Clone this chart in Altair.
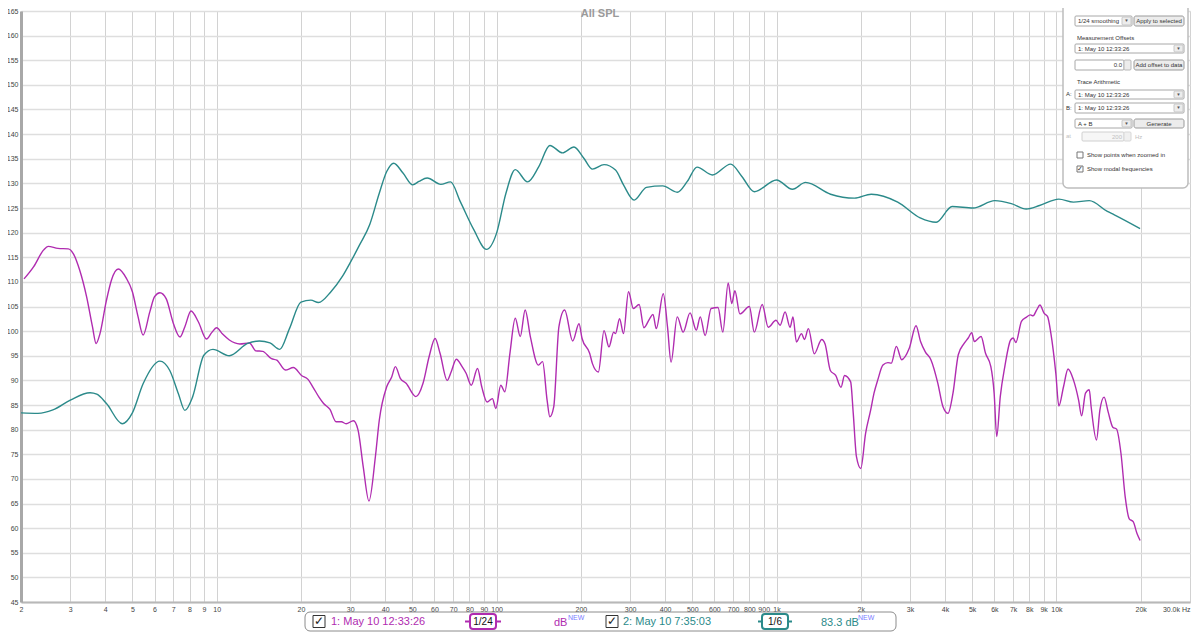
import altair as alt
import pandas as pd

# ---------------- data ----------------
# Trace 2 (teal) "2: May 10 7:35:03", 1/6 smoothing
t_freq = [2.0, 2.3, 2.6, 3.0, 3.53, 3.73, 4.04, 4.6, 5.0, 5.46,
          6.27, 6.8, 7.3, 7.7, 8.2, 9.0, 9.7, 11.1, 12.9, 14.2,
          15.5, 16.8, 18.2, 20.0, 21.7, 23.1, 25.6, 28.2, 30.0, 32.4,
          35.2, 38.1, 40.5, 42.9, 46.3, 50.2, 52.8, 56.5, 63.2, 68.5,
          74.2, 82.9, 92.0, 100, 108, 116.6, 129, 141.5, 155, 172,
          189, 205, 220, 242, 266, 284, 310, 343, 392, 442,
          480, 520, 590, 686, 752, 833, 1000, 1140, 1270, 1560,
          1900, 2180, 2710, 3260, 3720, 4240, 5040, 6020, 6900, 7800,
          8700, 10200, 11500, 13100, 15200, 16100, 19900]
t_db = [83.4, 83.3, 84.0, 86.0, 87.5, 87.2, 85.3, 81.2, 83.4, 89.3,
        93.9, 92.0, 87.3, 83.9, 86.6, 95.1, 96.3, 95.0, 97.5, 98.0,
        97.6, 96.3, 100.5, 105.9, 106.3, 105.8, 108.0, 111.2, 113.9, 117.5,
        121.6, 128.0, 132.4, 134.1, 132.1, 129.7, 130.4, 131.1, 129.8, 130.3,
        126.3, 120.6, 116.6, 119.9, 128.0, 132.8, 130.3, 133.4, 137.7, 136.2,
        137.4, 135.1, 132.9, 133.8, 132.7, 129.7, 126.6, 129.2, 129.5, 128.2,
        130.4, 133.3, 131.7, 133.9, 131.4, 128.3, 130.7, 128.8, 130.2, 127.8,
        127.0, 127.8, 126.2, 123.0, 122.1, 125.3, 125.0, 126.5, 125.9, 124.8,
        125.5, 126.8, 126.2, 126.5, 124.3, 123.6, 120.8]

# Trace 1 (magenta) "1: May 10 12:33:26", 1/24 smoothing
m_freq = [2.05, 2.22, 2.41, 2.5, 2.71, 2.95, 3.07, 3.24, 3.43, 3.6,
          3.71, 3.83, 4.03, 4.21, 4.45, 4.76, 5.0, 5.24, 5.46, 5.77,
          6.0, 6.27, 6.6, 7.0, 7.4, 7.7, 8.1, 8.6, 9.2, 9.6,
          10.0, 10.5, 11.1, 12.1, 13.1, 13.8, 14.6, 15.7, 16.4, 17.6,
          18.8, 20.1, 21.2, 22.1, 23.2, 24.1, 25.4, 26.7, 27.9, 29.0,
          30.8, 32.0, 33.4, 35.0, 36.9, 38.1, 40.5, 42.2, 43.5, 45.3,
          47.5, 51.5, 54.6, 57.4, 60.3, 62.8, 66.6, 68.8, 71.8, 75.3,
          77.9, 81.2, 85.5, 88.5, 92.5, 96.6, 99.4, 103.5, 107, 111.6,
          116.6, 121.5, 126.5, 132, 141, 146, 151.5, 155, 160, 167,
          175, 187, 197, 202, 215, 220, 231, 242, 252, 262,
          266, 275, 284, 296, 308, 323, 336, 352, 362, 372,
          394, 408, 420, 442, 464, 491, 517, 534, 556, 584,
          618, 643, 672, 692, 710, 740, 800, 833, 889, 934,
          996, 1030, 1073, 1118, 1145, 1178, 1228, 1258, 1300, 1364,
          1450, 1491, 1557, 1627, 1700, 1750, 1840, 1880, 1930, 2000,
          2080, 2170, 2230, 2300, 2400, 2500, 2570, 2680, 2800, 2980,
          3150, 3270, 3400, 3560, 3770, 3930, 4100, 4270, 4460, 4680,
          4840, 4980, 5090, 5380, 5580, 5830, 5990, 6120, 6300, 6540,
          6860, 7010, 7160, 7500, 7800, 8070, 8250, 8500, 8730, 9040,
          9290, 9550, 9950, 10200, 10600, 11000, 11500, 12000, 12300, 12700,
          13100, 13300, 13900, 14300, 14800, 15300, 15900, 16400, 17000, 17600,
          18200, 18800, 19400, 19900]
m_db = [110.6, 113.1, 116.5, 117.2, 116.8, 116.7, 115.8, 112.4, 107.0, 100.9,
        97.5, 99.5, 106.0, 110.4, 112.6, 110.7, 108.0, 102.9, 99.2, 103.9,
        107.0, 107.8, 106.6, 101.6, 98.8, 100.9, 104.1, 101.9, 98.4, 99.7,
        100.7, 99.4, 98.2, 97.4, 97.6, 96.0, 95.9, 94.4, 94.1, 92.1,
        92.6, 91.0, 90.2, 88.6, 86.6, 85.3, 84.1, 81.6, 81.6, 81.2,
        81.8, 79.9, 72.4, 65.5, 74.5, 81.9, 88.7, 90.7, 92.8, 90.4,
        89.4, 86.7, 89.4, 94.8, 98.5, 95.5, 90.0, 91.7, 94.3, 92.8,
        91.4, 89.0, 92.4, 88.7, 85.6, 86.3, 84.3, 89.0, 87.7, 95.5,
        102.6, 98.9, 104.3, 98.9, 93.1, 93.8, 86.0, 82.6, 84.6, 100.9,
        104.3, 98.0, 101.5, 98.5, 95.5, 93.4, 91.7, 100.1, 96.8, 99.8,
        99.5, 102.5, 99.5, 108.0, 104.6, 105.4, 100.7, 102.5, 103.4, 100.5,
        107.6, 100.8, 93.7, 102.9, 99.8, 103.7, 100.2, 102.9, 99.1, 104.6,
        104.8, 99.8, 109.8, 105.6, 108.2, 103.5, 105.0, 99.8, 105.4, 100.8,
        102.2, 101.2, 103.9, 100.8, 102.9, 97.8, 99.5, 98.3, 100.5, 95.4,
        98.3, 97.4, 92.0, 91.0, 88.6, 91.0, 89.7, 83.3, 74.5, 72.1,
        79.2, 84.0, 87.4, 90.1, 93.1, 93.6, 93.5, 96.9, 94.2, 96.5,
        101.1, 97.9, 95.8, 94.2, 89.4, 84.7, 83.3, 87.4, 95.2, 97.5,
        98.6, 99.7, 97.9, 98.9, 95.5, 92.8, 87.4, 78.6, 86.7, 92.8,
        98.2, 98.6, 97.7, 102.0, 102.8, 103.3, 103.1, 104.3, 105.3, 103.6,
        103.0, 99.6, 91.4, 84.8, 88.7, 92.3, 90.1, 86.0, 82.8, 87.4,
        88.1, 84.7, 77.9, 84.0, 86.6, 83.6, 80.5, 80.1, 75.2, 66.4,
        61.9, 61.3, 58.9, 57.5]

series_names = ["1: May 10 12:33:26", "2: May 10 7:35:03"]
x_ticks = [2, 3, 4, 5, 6, 7, 8, 9, 10, 20, 30, 40, 50, 60, 70, 80, 90, 100,
           200, 300, 400, 500, 600, 700, 800, 900, 1000, 2000, 3000, 4000,
           5000, 6000, 7000, 8000, 9000, 10000, 20000, 30000]
y_ticks = list(range(45, 170, 5))

TEAL = "#2b8a8a"
MAG = "#b02cb0"
FONT = "Liberation Sans"

df = pd.concat([
    pd.DataFrame({"f": m_freq, "db": m_db, "s": series_names[0]}),
    pd.DataFrame({"f": t_freq, "db": t_db, "s": series_names[1]}),
], ignore_index=True)

x_label_expr = ("datum.value >= 30000 ? '30.0k Hz' : (datum.value >= 1000 ? "
                "format(datum.value / 1000, 'd') + 'k' : format(datum.value, 'd'))")

lines = alt.Chart(df).mark_line(interpolate="monotone", strokeWidth=1.4).encode(
    x=alt.X("f:Q",
            scale=alt.Scale(type="log", domain=[2, 30000], nice=False),
            axis=alt.Axis(values=x_ticks, labelExpr=x_label_expr, title=None,
                          grid=True, gridColor="#d2d2d2", gridWidth=1,
                          ticks=False, domain=True, domainColor="#b8b8b8",
                          domainWidth=2, labelFontSize=7, labelColor="#444",
                          labelPadding=3, labelFlush=False, labelOverlap=False,
                          labelAlign={"condition": {"test": "datum.value >= 30000",
                                                    "value": "right"},
                                      "value": "center"},
                          labelFont=FONT)),
    y=alt.Y("db:Q",
            scale=alt.Scale(domain=[45, 165], nice=False, zero=False),
            axis=alt.Axis(values=y_ticks, title=None, grid=True,
                          gridColor="#dedede", gridWidth=1.6, ticks=False,
                          domain=True, domainColor="#a8a8a8", domainWidth=3,
                          labelFontSize=7, labelColor="#444", labelPadding=3,
                          labelOverlap=False, labelFont=FONT)),
    color=alt.Color("s:N", scale=alt.Scale(domain=series_names, range=[MAG, TEAL]),
                    legend=None),
    order=alt.Order("f:Q"),
)

dummy = pd.DataFrame({"k": [0]})


def box(x1, y1, x2, y2, fill="white", stroke="#a0a0a0", sw=1, r=2):
    return alt.Chart(dummy).mark_rect(fill=fill, stroke=stroke, strokeWidth=sw,
                                      cornerRadius=r).encode(
        x=alt.value(x1), x2=alt.value(x2), y=alt.value(y1), y2=alt.value(y2))


def label(x, y, s, size=7, color="#333", align="left", weight="normal"):
    return alt.Chart(dummy).mark_text(text=s, align=align, baseline="middle",
                                      fontSize=size, color=color,
                                      fontWeight=weight, font=FONT).encode(
        x=alt.value(x), y=alt.value(y))


def hline(x1, x2, y, color, sw=2):
    return alt.Chart(dummy).mark_rule(color=color, strokeWidth=sw).encode(
        x=alt.value(x1), x2=alt.value(x2), y=alt.value(y))


def dropdown(x1, y1, x2, y2, s, color="#333"):
    cy = (y1 + y2) / 2
    return [box(x1, y1, x2, y2, stroke="#a8a8a8", r=1),
            box(x2 - 10, y1 + 1, x2 - 1, y2 - 1, fill="#ececec", stroke="#c8c8c8", r=1),
            label(x2 - 5.5, cy, "▼", size=4.5, color="#555", align="center"),
            label(x1 + 3, cy, s, size=6, color=color)]


def button(x1, y1, x2, y2, s):
    return [box(x1, y1, x2, y2, fill="#ececec", stroke="#9a9a9a", r=2),
            label((x1 + x2) / 2, (y1 + y2) / 2, s, size=6, align="center")]


layers = [lines]

# chart title
layers.append(label(579, 3, "All SPL", size=11, color="#9a9a9a", align="center", weight="bold"))

# control panel (top right)
layers.append(box(1042, -8, 1167, 177, fill="white", stroke="#bdbdbd", sw=1.5, r=5))
layers += dropdown(1054, 5, 1111, 15, "1/24 smoothing")
layers += button(1113, 5, 1163, 15, "Apply to selected")
layers.append(label(1056, 27, "Measurement Offsets", size=6))
layers += dropdown(1054, 33, 1163, 42, "1: May 10 12:33:26")
layers.append(box(1054, 49, 1103, 59, stroke="#a8a8a8", r=1))
layers.append(box(1103, 49, 1110, 59, fill="#ececec", stroke="#b8b8b8", r=1))
layers.append(label(1101, 54, "0.0", size=6, align="right"))
layers += button(1113, 49, 1163, 59, "Add offset to data")
layers.append(label(1056, 71, "Trace Arithmetic", size=6))
layers.append(label(1045, 83, "A:", size=6))
layers += dropdown(1054, 79, 1163, 88, "1: May 10 12:33:26")
layers.append(label(1045, 97, "B:", size=6))
layers += dropdown(1054, 92, 1163, 102, "1: May 10 12:33:26")
layers += dropdown(1054, 108, 1111, 117, "A + B")
layers += button(1113, 108, 1163, 117, "Generate")
layers.append(label(1045, 125, "at", size=6, color="#c0c0c0"))
layers.append(box(1061, 121, 1103, 130, fill="#f6f6f6", stroke="#d0d0d0", r=1))
layers.append(box(1103, 121, 1110, 130, fill="#f0f0f0", stroke="#d8d8d8", r=1))
layers.append(label(1101, 125.5, "200", size=6, color="#c0c0c0", align="right"))
layers.append(label(1114, 125.5, "Hz", size=6, color="#c0c0c0"))
layers.append(box(1056, 141, 1062, 147, stroke="#777", r=0))
layers.append(label(1066, 144, "Show points when zoomed in", size=6))
layers.append(box(1056, 155, 1062, 161, stroke="#777", r=0))
layers.append(label(1059, 157.5, "✓", size=7, color="#333", align="center"))
layers.append(label(1066, 158, "Show modal frequencies", size=6))

# bottom legend bar
LY = 610.5
layers.append(box(284, 601, 875, 620, fill="white", stroke="#8c8c8c", sw=1, r=5))
layers.append(box(292, 604.5, 304, 616.5, stroke="#333", sw=1, r=0))
layers.append(label(298, 610, "✓", size=12, color="#222", align="center"))
layers.append(label(310, LY, series_names[0], size=11, color=MAG))
layers.append(hline(444, 480, LY, MAG, 2))
layers.append(box(449, 603, 475, 618, stroke=MAG, sw=2, r=3))
layers.append(label(462, LY, "1/24", size=10, color="#111", align="center"))
layers.append(label(533, LY + 1, "dB", size=11, color=MAG))
layers.append(label(547, LY - 4, "NEW", size=7, color="#7b7bff"))
layers.append(box(585, 604.5, 597, 616.5, stroke="#333", sw=1, r=0))
layers.append(label(591, 610, "✓", size=12, color="#222", align="center"))
layers.append(label(602, LY, series_names[1], size=11, color=TEAL))
layers.append(hline(737, 771, LY, TEAL, 2))
layers.append(box(741, 603, 767, 618, stroke=TEAL, sw=2, r=3))
layers.append(label(754, LY, "1/6", size=10, color="#111", align="center"))
layers.append(label(800, LY + 1, "83.3 dB", size=11, color=TEAL))
layers.append(label(837, LY - 4, "NEW", size=7, color="#7b7bff"))

chart = alt.layer(*layers).properties(
    width=1169,
    height=591,
    autosize=alt.AutoSizeParams(type="none"),
    padding={"left": 13, "top": 3, "right": 2, "bottom": 30},
    background="white",
).configure_view(stroke="#b8b8b8", strokeWidth=1.5).configure(font=FONT)

chart.save("out.html", embed_options={"renderer": "svg", "actions": False})
